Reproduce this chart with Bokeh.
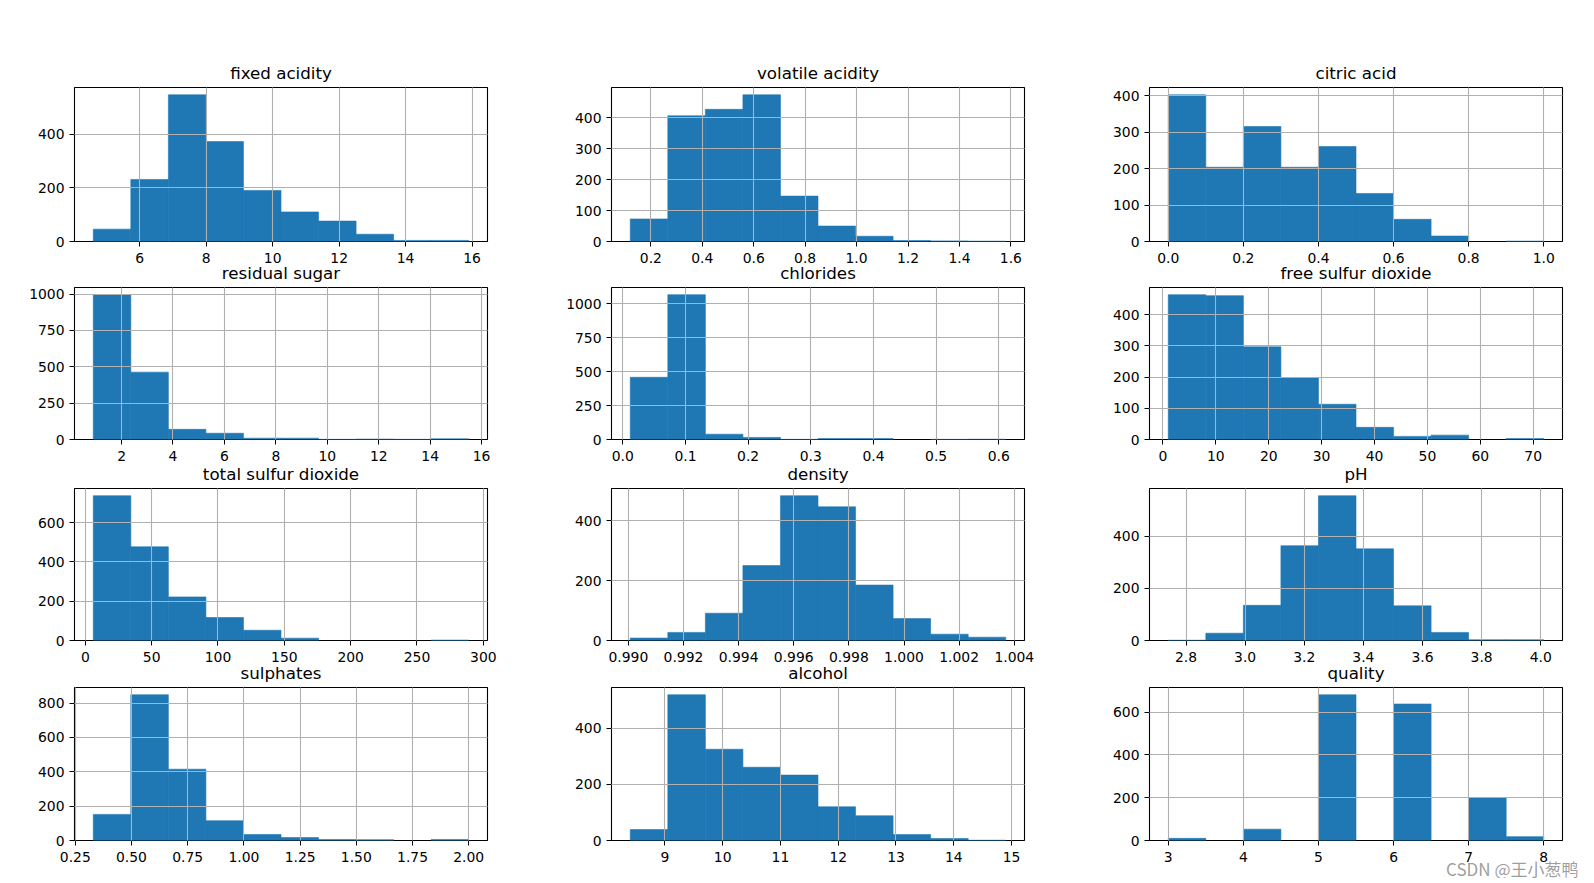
import numpy as np
from bokeh.plotting import figure
from bokeh.models import Range1d, FixedTicker, PrintfTickFormatter, Title
from bokeh.layouts import column, row
from bokeh.embed import file_html
from bokeh.resources import INLINE

# ---------------- data (10-bin histograms) ----------------
fixed_acidity_range = [4.6, 15.9]
fixed_acidity_counts = [46, 231, 546, 372, 190, 110, 76, 27, 4, 4]
fixed_acidity_xticks = [6, 8, 10, 12, 14, 16]
fixed_acidity_yticks = [0, 200, 400]

volatile_acidity_range = [0.12, 1.58]
volatile_acidity_counts = [73, 407, 428, 475, 147, 50, 17, 3, 2, 1]
volatile_acidity_xticks = [0.2, 0.4, 0.6, 0.8, 1.0, 1.2, 1.4, 1.6]
volatile_acidity_yticks = [0, 100, 200, 300, 400]

citric_acid_range = [0.0, 1.0]
citric_acid_counts = [403, 204, 316, 204, 261, 132, 61, 15, 0, 1]
citric_acid_xticks = [0.0, 0.2, 0.4, 0.6, 0.8, 1.0]
citric_acid_yticks = [0, 100, 200, 300, 400]

residual_sugar_range = [0.9, 15.5]
residual_sugar_counts = [995, 463, 70, 43, 9, 9, 1, 3, 1, 5]
residual_sugar_xticks = [2, 4, 6, 8, 10, 12, 14, 16]
residual_sugar_yticks = [0, 250, 500, 750, 1000]

chlorides_range = [0.012, 0.611]
chlorides_counts = [459, 1068, 39, 15, 1, 7, 7, 0, 1, 2]
chlorides_xticks = [0.0, 0.1, 0.2, 0.3, 0.4, 0.5, 0.6]
chlorides_yticks = [0, 250, 500, 750, 1000]

free_sulfur_range = [1.0, 72.0]
free_sulfur_counts = [464, 461, 297, 198, 113, 39, 10, 14, 0, 3]
free_sulfur_xticks = [0, 10, 20, 30, 40, 50, 60, 70]
free_sulfur_yticks = [0, 100, 200, 300, 400]

total_sulfur_range = [6.0, 289.0]
total_sulfur_counts = [737, 477, 222, 117, 52, 12, 0, 0, 0, 2]
total_sulfur_xticks = [0, 50, 100, 150, 200, 250, 300]
total_sulfur_yticks = [0, 200, 400, 600]

density_range = [0.99007, 1.00369]
density_counts = [8, 27, 91, 250, 483, 446, 185, 73, 21, 11]
density_xticks = [0.990, 0.992, 0.994, 0.996, 0.998, 1.000, 1.002, 1.004]
density_yticks = [0, 200, 400]

ph_range = [2.74, 4.01]
ph_counts = [1, 28, 135, 364, 556, 352, 133, 31, 3, 3]
ph_xticks = [2.8, 3.0, 3.2, 3.4, 3.6, 3.8, 4.0]
ph_yticks = [0, 200, 400]

sulphates_range = [0.33, 2.0]
sulphates_counts = [152, 848, 415, 115, 35, 17, 6, 5, 0, 6]
sulphates_xticks = [0.25, 0.50, 0.75, 1.00, 1.25, 1.50, 1.75, 2.00]
sulphates_yticks = [0, 200, 400, 600, 800]

alcohol_range = [8.4, 14.9]
alcohol_counts = [39, 519, 325, 261, 233, 120, 88, 21, 7, 1]
alcohol_xticks = [9, 10, 11, 12, 13, 14, 15]
alcohol_yticks = [0, 200, 400]

quality_range = [3.0, 8.0]
quality_counts = [10, 0, 53, 0, 681, 0, 638, 0, 199, 18]
quality_xticks = [3, 4, 5, 6, 7, 8]
quality_yticks = [0, 200, 400, 600]

titles = ["fixed acidity", "volatile acidity", "citric acid",
          "residual sugar", "chlorides", "free sulfur dioxide",
          "total sulfur dioxide", "density", "pH",
          "sulphates", "alcohol", "quality"]

watermark = "CSDN @王小葱鸭"

# ---------------- styling / layout ----------------
BLUE = "#1f77b4"
FONT = "DejaVu Sans"
FW = 413
col_left = [74, 66, 66]
col_right = [58, 59, 28]
row_top = [87, 29, 29, 29]
row_frame = [154, 154, 154, 155]
row_bottom = [28, 28, 28, 38]
row_shift = [0, -13, -10, -12]   # rows overlap slightly, as the titles sit close to the ticks above

specs = [
    (fixed_acidity_range, fixed_acidity_counts, fixed_acidity_xticks, "%d", fixed_acidity_yticks),
    (volatile_acidity_range, volatile_acidity_counts, volatile_acidity_xticks, "%.1f", volatile_acidity_yticks),
    (citric_acid_range, citric_acid_counts, citric_acid_xticks, "%.1f", citric_acid_yticks),
    (residual_sugar_range, residual_sugar_counts, residual_sugar_xticks, "%d", residual_sugar_yticks),
    (chlorides_range, chlorides_counts, chlorides_xticks, "%.1f", chlorides_yticks),
    (free_sulfur_range, free_sulfur_counts, free_sulfur_xticks, "%d", free_sulfur_yticks),
    (total_sulfur_range, total_sulfur_counts, total_sulfur_xticks, "%d", total_sulfur_yticks),
    (density_range, density_counts, density_xticks, "%.3f", density_yticks),
    (ph_range, ph_counts, ph_xticks, "%.1f", ph_yticks),
    (sulphates_range, sulphates_counts, sulphates_xticks, "%.2f", sulphates_yticks),
    (alcohol_range, alcohol_counts, alcohol_xticks, "%d", alcohol_yticks),
    (quality_range, quality_counts, quality_xticks, "%d", quality_yticks),
]


def make_panel(i):
    r, c = divmod(i, 3)
    (lo, hi), counts, xt, xf, yt = specs[i]
    counts = np.asarray(counts, dtype=float)
    edges = np.linspace(lo, hi, len(counts) + 1)
    span = hi - lo
    ymax = counts.max() * 1.05
    W = col_left[c] + FW + col_right[c]
    H = row_top[r] + row_frame[r] + row_bottom[r]
    p = figure(width=W, height=H, output_backend="svg", toolbar_location=None,
               x_range=Range1d(lo - 0.05 * span, hi + 0.05 * span),
               y_range=Range1d(0, ymax),
               min_border_left=col_left[c], min_border_right=col_right[c],
               min_border_top=row_top[r], min_border_bottom=row_bottom[r])
    p.title.text = titles[i]
    p.title.align = "center"
    p.title.text_font = FONT
    p.title.text_font_size = "16.7px"
    p.title.text_font_style = "normal"
    p.title.text_color = "black"
    p.title.standoff = 9

    keep = counts > 0
    p.quad(left=edges[:-1][keep], right=edges[1:][keep], bottom=0, top=counts[keep],
           fill_color=BLUE, line_color=BLUE, line_width=0.6)

    for ax in (p.xaxis[0], p.yaxis[0]):
        ax.axis_line_color = None
        ax.major_tick_line_color = "black"
        ax.major_tick_line_width = 1
        ax.major_tick_out = 5
        ax.major_tick_in = 0
        ax.minor_tick_line_color = None
        ax.major_label_text_font = FONT
        ax.major_label_text_font_size = "13.9px"
        ax.major_label_text_color = "black"
    p.xaxis.ticker = FixedTicker(ticks=xt)
    p.xaxis.formatter = PrintfTickFormatter(format=xf)
    p.xaxis.major_label_standoff = 6
    p.yaxis.ticker = FixedTicker(ticks=yt)
    p.yaxis.formatter = PrintfTickFormatter(format="%d")
    p.yaxis.major_label_standoff = 5

    p.grid.grid_line_color = "#b0b0b0"
    p.grid.grid_line_width = 1.1
    p.grid.level = "annotation"

    p.outline_line_color = "black"
    p.outline_line_width = 1.1
    p.outline_line_alpha = 1.0
    p.background_fill_color = "white"
    p.border_fill_alpha = 0

    if i == 11:
        p.add_layout(Title(text=watermark, align="right", offset=-16, standoff=-32,
                           text_font="Noto Sans CJK SC", text_font_size="17px",
                           text_font_style="normal", text_color="#8c8c8c",
                           text_alpha=0.85), "below")
    return p


panels = [make_panel(i) for i in range(12)]
rows = [row(*panels[3 * k:3 * k + 3], margin=(row_shift[k], 0, 0, 0)) for k in range(4)]
layout = column(*rows)

open("out.html", "w").write(file_html(layout, INLINE))
